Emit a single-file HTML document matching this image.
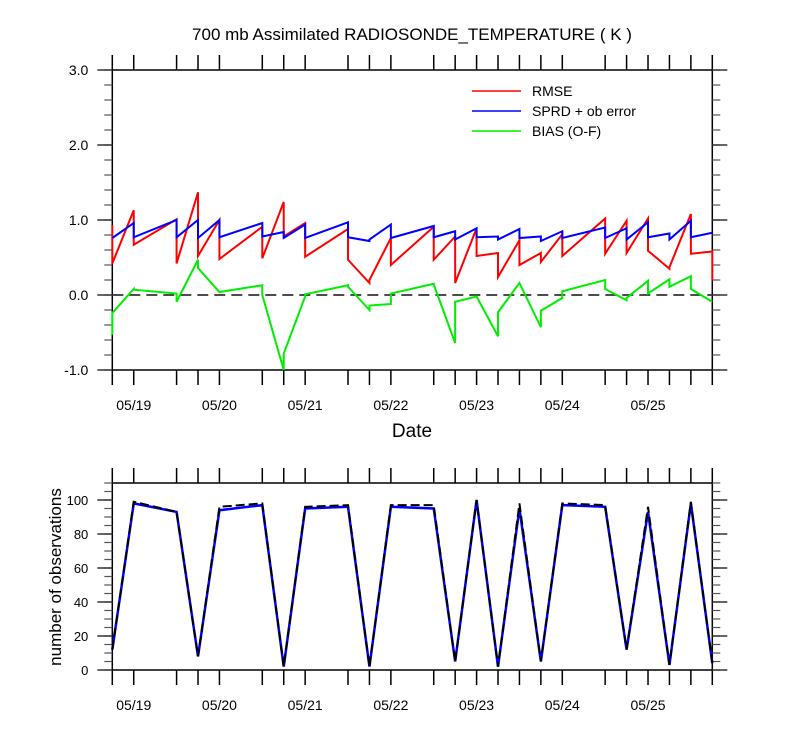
<!DOCTYPE html>
<html><head><meta charset="utf-8"><style>
html,body{margin:0;padding:0;background:#fff;}
svg{display:block;font-family:"Liberation Sans",sans-serif;}
</style></head><body>
<svg id="chart" width="800" height="750" xmlns="http://www.w3.org/2000/svg"></svg>
<script>
// time step index (6-hourly, 0 = 05/18 18Z)
const times = [0,1,3,4,5,7,8,9,11,12,13,15,16,17,18,19,20,21,23,24,25,26,27,28];
const rmseIn  = [0.93,1.13,1.01,1.37,1.00,0.91,1.24,0.96,0.88,0.16,0.76,0.91,0.78,0.89,0.56,0.73,0.56,0.81,1.02,0.99,1.02,0.35,1.08,0.58];
const rmseOut = [0.42,0.67,0.42,0.52,0.48,0.49,0.78,0.51,0.47,0.20,0.40,0.47,0.16,0.52,0.24,0.40,0.44,0.52,0.55,0.56,0.59,0.37,0.55,0.20];
const sprdIn  = [0.76,0.96,1.00,1.00,1.00,0.96,0.84,0.94,0.97,0.72,0.94,0.92,0.85,0.89,0.78,0.88,0.78,0.85,0.90,0.89,0.97,0.82,0.99,0.83];
const sprdOut = [0.76,0.77,0.77,0.76,0.77,0.78,0.76,0.76,0.77,0.74,0.76,0.77,0.74,0.77,0.74,0.76,0.72,0.76,0.76,0.74,0.77,0.74,0.77,0.83];
const biasIn  = [-0.53,0.08,0.02,0.47,0.04,0.13,-1.00,-0.02,0.13,-0.20,-0.12,0.15,-0.64,-0.02,-0.55,0.16,-0.43,-0.04,0.20,-0.07,0.19,0.21,0.25,-0.09];
const biasOut = [-0.24,0.07,-0.09,0.36,0.04,0.00,-0.78,0.01,0.11,-0.14,0.02,0.14,-0.09,-0.02,-0.23,0.16,-0.21,0.05,0.08,-0.04,0.02,0.11,0.08,-0.09];
const nobsUsed = [12,98,93,8,94,97,2,95,96,2,96,95,5,100,2,95,5,97,96,12,93,3,98,4];
const nobsAll  = [12,99,93,8,96,98,2,96,97,2,97,97,5,100,2,98,5,98,97,12,96,3,99,4];
const topTicks = ["3.0","2.0","1.0","0.0","-1.0"];
const topTickVals = [3,2,1,0,-1];
const botTickVals = [0,20,40,60,80,100];
const botTicks = ["0","20","40","60","80","100"];
const dateLabels = ["05/19","05/20","05/21","05/22","05/23","05/24","05/25"];
const dateSteps = [1,5,9,13,17,21,25];

const NS="http://www.w3.org/2000/svg";
const svg=document.getElementById('chart');
function mk(tag,attrs,parent){const e=document.createElementNS(NS,tag);for(const k in attrs)e.setAttribute(k,attrs[k]);(parent||svg).appendChild(e);return e;}
const X0=112.3, X1=712.3;
const xs=t=>X0+(X1-X0)*t/28;
const yTop=v=>295-75*v;
const yBot=v=>670-1.7*v;

function frame(top,bot,name){
  const r=mk('rect',{x:X0,y:top,width:X1-X0,height:bot-top,fill:'none',stroke:'#000','stroke-width':1.5});
  
  
  times.forEach(t=>{
    const x=xs(t);
    const a=mk('line',{x1:x,x2:x,y1:top,y2:top-15,stroke:'#000','stroke-width':1.5});
    
    
    const b=mk('line',{x1:x,x2:x,y1:bot,y2:bot+15,stroke:'#000','stroke-width':1.5});
    
    
  });
  dateLabels.forEach((d,i)=>{
    const tx=mk('text',{x:xs(dateSteps[i]),y:bot+40,'font-size':14,'text-anchor':'middle'});
    tx.textContent=d;
    
    
  });
}
function yticks(vals,labels,minStep,lo,hi,yf,name,fs){
  for(let v=lo;v<=hi+1e-9;v+=minStep){
    const y=yf(v);
    const l=mk('line',{x1:X0-8,x2:X0,y1:y,y2:y,stroke:'#555','stroke-width':1.2});
    
    
    const r=mk('line',{x1:X1,x2:X1+8,y1:y,y2:y,stroke:'#555','stroke-width':1.2});
    
    
  }
  vals.forEach((v,i)=>{
    const y=yf(v);
    const l=mk('line',{x1:X0-15,x2:X0,y1:y,y2:y,stroke:'#333','stroke-width':1.5});
    
    
    const r=mk('line',{x1:X1,x2:X1+15,y1:y,y2:y,stroke:'#333','stroke-width':1.5});
    
    
    const tx=mk('text',{x:X0-24,y:y+5,'font-size':fs,'text-anchor':'end'});
    tx.textContent=labels[i];
    
    
  });
}
function saw(inA,outA,yf,color,name,w,dash){
  const pts=[];
  times.forEach((t,i)=>{pts.push(xs(t)+','+yf(inA[i]));pts.push(xs(t)+','+yf(outA[i]));});
  const p=mk('polyline',{points:pts.join(' '),fill:'none',stroke:color,'stroke-width':w||2,'stroke-linejoin':'miter'});
  if(dash)p.setAttribute('stroke-dasharray',dash);
  
  
}

// title
const title=mk('text',{x:412,y:40,'font-size':17,'text-anchor':'middle'});
title.textContent="700 mb Assimilated RADIOSONDE_TEMPERATURE ( K )";



// top panel
frame(70,370,'top');
yticks(topTickVals,topTicks,0.2,-1,3,yTop,'top',14);
const zl=mk('line',{x1:X0,x2:X1,y1:yTop(0),y2:yTop(0),stroke:'#333','stroke-width':1.8,'stroke-dasharray':'11,6'});


saw(rmseIn,rmseOut,yTop,'#ff0000','rmse-line');
saw(sprdIn,sprdOut,yTop,'#0000ff','sprd-line');
saw(biasIn,biasOut,yTop,'#00ee00','bias-line');
const dl=mk('text',{x:412,y:437,'font-size':19,'text-anchor':'middle'});
dl.textContent="Date";



// legend
const legendNames=["RMSE","SPRD + ob error","BIAS (O-F)"];
const legendColors=['#ff0000','#0000ff','#00ee00'];
legendNames.forEach((n,i)=>{
  const y=91+i*20;
  const l=mk('line',{x1:472,x2:521,y1:y,y2:y,stroke:legendColors[i],'stroke-width':1.5});
  
  
  const t=mk('text',{x:532,y:y+5,'font-size':14});
  t.textContent=n;
  
  
});

// bottom panel
frame(483,670,'bottom');
yticks(botTickVals,botTicks,5,0,110,yBot,'bottom',13);
saw(nobsUsed,nobsUsed,yBot,'#0000ff','nobs-used-line',2.5);
saw(nobsAll,nobsAll,yBot,'#000','nobs-all-line',2,'9,4');
const yl=mk('text',{x:0,y:0,'font-size':17,'text-anchor':'middle',transform:'translate(61,577) rotate(-90)'});
yl.textContent="number of observations";


</script>
</body></html>
